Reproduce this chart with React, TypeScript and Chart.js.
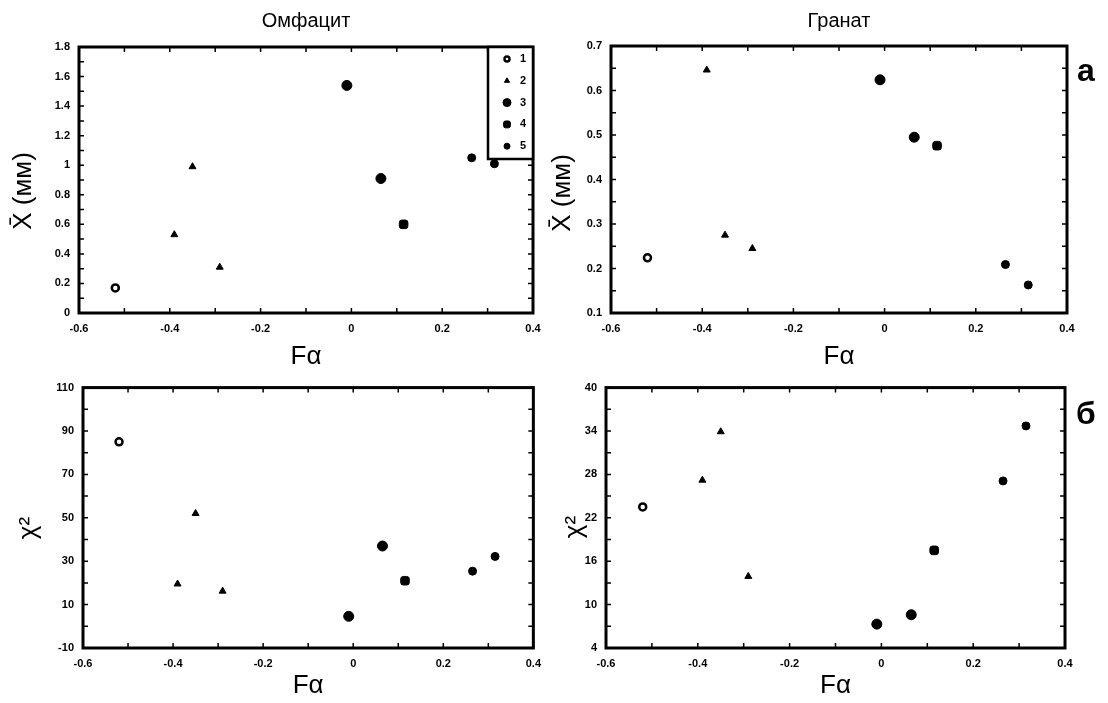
import React, { useEffect, useRef } from 'react';
import { Chart, registerables } from 'chart.js';
import { drawPoint } from 'chart.js/helpers';

Chart.register(...registerables);

// ---- data ----
const fAlpha = [-0.52, -0.39, -0.35, -0.29, -0.01, 0.065, 0.115, 0.265, 0.315];
const groups = [1, 2, 2, 2, 3, 3, 4, 5, 5];
const groupLabels = ['1', '2', '3', '4', '5'];

const omphaciteMean = [0.17, 0.53, 0.99, 0.31, 1.54, 0.91, 0.6, 1.05, 1.01];
const garnetMean = [0.224, 0.646, 0.275, 0.245, 0.624, 0.495, 0.476, 0.209, 0.163];
const omphaciteChi2 = [85, 19.5, 52, 16.2, 4.6, 37, 21, 25.4, 32.2];
const garnetChi2 = [23.5, 27.2, 33.9, 13.9, 7.3, 8.6, 17.5, 27.1, 34.7];

const fAlphaAxis = [-0.6, 0.4, 0.2];
const omphMeanAxis = [0, 1.8, 0.2];
const garnetMeanAxis = [0.1, 0.7, 0.1];
const omphChiAxis = [-10, 110, 20];
const garnetChiAxis = [4, 40, 6];

const columnTitles = ['Омфацит', 'Гранат'];
const rowLetters = ['а', 'б'];
const meanTitle = 'X\u0304 (мм)';
const chiTitle = 'χ²';
const xTitle = 'Fα';

const FONT = "'Liberation Sans', Arial, sans-serif";

const groupStyles = [
  { pointStyle: 'circle', radius: 3.5, backgroundColor: '#fff', borderColor: '#000', borderWidth: 2.5 },
  { pointStyle: 'triangle', radius: 4, backgroundColor: '#000', borderColor: '#000', borderWidth: 1 },
  { pointStyle: 'circle', radius: 5, backgroundColor: '#000', borderColor: '#000', borderWidth: 1 },
  { pointStyle: 'rectRounded', radius: 5, backgroundColor: '#000', borderColor: '#000', borderWidth: 1 },
  { pointStyle: 'circle', radius: 4, backgroundColor: '#000', borderColor: '#000', borderWidth: 1 },
];

function buildDatasets(values: number[]) {
  return groupLabels.map((label, gi) => {
    const g = gi + 1;
    const data: { x: number; y: number }[] = [];
    fAlpha.forEach((x, i) => {
      if (groups[i] === g) data.push({ x, y: values[i] });
    });
    const s = groupStyles[gi];
    return {
      label,
      data,
      pointStyle: s.pointStyle,
      pointRadius: s.radius,
      pointBackgroundColor: s.backgroundColor,
      pointBorderColor: s.borderColor,
      pointBorderWidth: s.borderWidth,
      showLine: false,
    };
  });
}

const fmt = (v: number) => String(Number(v.toFixed(3)));

const framePlugin = {
  id: 'frame',
  afterDatasetsDraw(chart: any) {
    const { ctx, chartArea: a, scales } = chart;
    ctx.save();
    ctx.strokeStyle = '#000';
    ctx.lineWidth = 1.5;
    const len = 5;
    const xs = scales.x;
    const ys = scales.y;
    const xt = xs.ticks.map((t: any) => t.value);
    const yt = ys.ticks.map((t: any) => t.value);
    const addMinor = (arr: number[]) => {
      const out: number[] = [];
      arr.forEach((v, i) => {
        out.push(v);
        if (i < arr.length - 1) out.push((v + arr[i + 1]) / 2);
      });
      return out;
    };
    ctx.beginPath();
    addMinor(xt).forEach((v) => {
      const px = xs.getPixelForValue(v);
      ctx.moveTo(px, a.bottom);
      ctx.lineTo(px, a.bottom - len);
      ctx.moveTo(px, a.top);
      ctx.lineTo(px, a.top + len);
    });
    addMinor(yt).forEach((v) => {
      const py = ys.getPixelForValue(v);
      ctx.moveTo(a.left, py);
      ctx.lineTo(a.left + len, py);
      ctx.moveTo(a.right, py);
      ctx.lineTo(a.right - len, py);
    });
    ctx.stroke();
    ctx.lineWidth = 3;
    ctx.strokeRect(a.left, a.top, a.right - a.left, a.bottom - a.top);
    ctx.restore();
  },
};

const legendBoxPlugin = {
  id: 'legendBox',
  afterDraw(chart: any, _args: any, opts: any) {
    if (!opts || !opts.show) return;
    const { ctx, chartArea: a } = chart;
    const w = 45;
    const h = 112;
    const left = a.right - w;
    const top = a.top;
    ctx.save();
    ctx.fillStyle = '#fff';
    ctx.fillRect(left, top, w, h);
    ctx.strokeStyle = '#000';
    ctx.lineWidth = 2.5;
    ctx.strokeRect(left, top, w, h);
    chart.data.datasets.forEach((ds: any, i: number) => {
      const y = top + 12 + i * 21.8;
      ctx.fillStyle = ds.pointBackgroundColor;
      ctx.strokeStyle = ds.pointBorderColor;
      ctx.lineWidth = ds.pointBorderWidth;
      drawPoint(
        ctx,
        { pointStyle: ds.pointStyle, radius: Math.max(2.5, ds.pointRadius - 1), borderWidth: Math.min(2, ds.pointBorderWidth), rotation: 0 } as any,
        left + 19,
        y
      );
      ctx.fillStyle = '#000';
      ctx.font = `bold 11px ${FONT}`;
      ctx.textAlign = 'center';
      ctx.textBaseline = 'middle';
      ctx.fillText(ds.label, left + 35, y);
    });
    ctx.restore();
  },
};

const sideTitlePlugin = {
  id: 'sideTitle',
  afterDraw(chart: any, _args: any, opts: any) {
    if (!opts || !opts.text) return;
    const { ctx } = chart;
    ctx.save();
    ctx.translate(opts.x, opts.y);
    ctx.rotate(-Math.PI / 2);
    ctx.fillStyle = '#000';
    ctx.font = `${opts.size}px ${FONT}`;
    ctx.textAlign = 'center';
    ctx.textBaseline = 'middle';
    ctx.fillText(opts.text, 0, 0);
    ctx.restore();
  },
};

type PanelProps = {
  box: [number, number, number, number];
  plot: [number, number, number, number]; // left, top, right, bottom (absolute)
  values: number[];
  yAxis: number[];
  yTitle: string;
  yTitlePos: [number, number];
  xTitlePadBottom: number;
  legend?: boolean;
};

function Panel({ box, plot, values, yAxis, yTitle, yTitlePos, xTitlePadBottom, legend }: PanelProps) {
  const ref = useRef<HTMLCanvasElement>(null);
  const [bx, by, bw, bh] = box;
  const [pl, pt, pr, pb] = plot;
  useEffect(() => {
    if (!ref.current) return;
    const yW = pl - bx;
    const xH = by + bh - pb;
    const tickFont = { family: FONT, size: 11, weight: 'bold' as const };
    const chart = new Chart(ref.current, {
      type: 'scatter',
      data: { datasets: buildDatasets(values) as any },
      options: {
        animation: false,
        responsive: false,
        events: [],
        layout: { padding: { top: pt - by, right: bx + bw - pr, left: 0, bottom: 0 } },
        plugins: {
          legend: { display: false },
          tooltip: { enabled: false },
          legendBox: { show: !!legend },
          sideTitle: { text: yTitle, x: yTitlePos[0] - bx, y: yTitlePos[1] - by, size: 26 },
        } as any,
        scales: {
          x: {
            type: 'linear',
            min: fAlphaAxis[0],
            max: fAlphaAxis[1],
            ticks: {
              stepSize: fAlphaAxis[2],
              color: '#000',
              font: tickFont,
              padding: 9,
              maxRotation: 0,
              callback: (v: any) => fmt(Number(v)),
            },
            grid: { display: false, drawTicks: false },
            border: { display: false },
            title: {
              display: true,
              text: xTitle,
              color: '#000',
              font: { family: FONT, size: 26 },
              padding: { top: 0, bottom: xTitlePadBottom },
            },
            afterFit: (s: any) => {
              s.height = xH;
            },
          },
          y: {
            type: 'linear',
            min: yAxis[0],
            max: yAxis[1],
            ticks: {
              stepSize: yAxis[2],
              color: '#000',
              font: tickFont,
              padding: 9,
              callback: (v: any) => fmt(Number(v)),
            },
            grid: { display: false, drawTicks: false },
            border: { display: false },
            afterFit: (s: any) => {
              s.width = yW;
            },
          },
        },
      } as any,
      plugins: [framePlugin, legendBoxPlugin, sideTitlePlugin],
    });
    return () => chart.destroy();
  }, []);
  return (
    <canvas
      ref={ref}
      width={bw}
      height={bh}
      style={{ position: 'absolute', left: bx, top: by, width: bw, height: bh }}
    />
  );
}

const textStyle = (x: number, y: number, size: number, bold = false): React.CSSProperties => ({
  position: 'absolute',
  left: x,
  top: y,
  transform: 'translate(-50%, -50%)',
  fontFamily: FONT,
  fontSize: size,
  fontWeight: bold ? 'bold' : 'normal',
  color: '#000',
  whiteSpace: 'nowrap',
  lineHeight: 1,
});

export default function App() {
  return (
    <div style={{ position: 'absolute', left: 0, top: 0, width: 1108, height: 703, background: '#fff', overflow: 'hidden' }}>
      <Panel
        box={[0, 0, 550, 372]}
        plot={[79, 47, 533, 313]}
        values={omphaciteMean}
        yAxis={omphMeanAxis}
        yTitle={meanTitle}
        yTitlePos={[24, 191]}
        xTitlePadBottom={0}
        legend
      />
      <Panel
        box={[540, 0, 568, 372]}
        plot={[611, 46, 1067, 313]}
        values={garnetMean}
        yAxis={garnetMeanAxis}
        yTitle={meanTitle}
        yTitlePos={[563, 193]}
        xTitlePadBottom={0}
      />
      <Panel
        box={[0, 372, 550, 331]}
        plot={[83, 385, 534, 648]}
        values={omphaciteChi2}
        yAxis={omphChiAxis}
        yTitle={chiTitle}
        yTitlePos={[29, 528]}
        xTitlePadBottom={2}
      />
      <Panel
        box={[540, 372, 568, 331]}
        plot={[606, 384, 1065, 648]}
        values={garnetChi2}
        yAxis={garnetChiAxis}
        yTitle={chiTitle}
        yTitlePos={[575, 527]}
        xTitlePadBottom={2}
      />
      <div style={textStyle(306, 20, 20)}>{columnTitles[0]}</div>
      <div style={textStyle(839, 20, 20)}>{columnTitles[1]}</div>
      <div style={textStyle(1086, 70, 32, true)}>{rowLetters[0]}</div>
      <div style={textStyle(1086, 413, 32, true)}>{rowLetters[1]}</div>
    </div>
  );
}
